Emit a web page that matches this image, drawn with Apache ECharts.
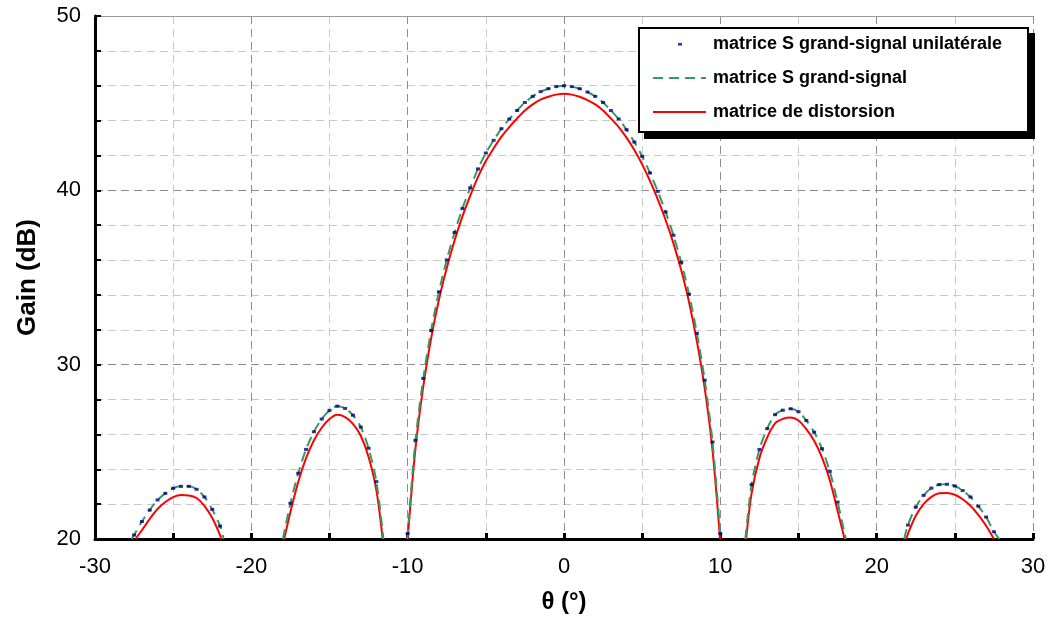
<!DOCTYPE html>
<html>
<head>
<meta charset="utf-8">
<title>Gain vs theta</title>
<script src="https://cdn.jsdelivr.net/npm/echarts@6/dist/echarts.min.js"></script>
<style>
  html, body { margin: 0; padding: 0; background: #fff; }
  #chart { width: 1051px; height: 628px; }
</style>
</head>
<body>
<div id="chart"></div>
<script>
// angle (deg) / gain (dB), null = line break (below 20 dB)
const dotTheta = [
  -27.5, -27, -26.5, -26, -25.5, -25, -24.5, -24, -23.5, -23, -22.5, -22,
  -17.5, -17, -16.5, -16, -15.5, -15, -14.5, -14, -13.5, -13, -12.5, -12,
  -10, -9.5, -9, -8.5, -8, -7.5, -7, -6.5, -6, -5.5, -5, -4.5, -4, -3.5, -3, -2.5, -2, -1.5, -1, -0.5,
  0, 0.5, 1, 1.5, 2, 2.5, 3, 3.5, 4, 4.5, 5, 5.5, 6, 6.5, 7, 7.5, 8, 8.5, 9, 9.5, 10,
  12, 12.5, 13, 13.5, 14, 14.5, 15, 15.5, 16, 16.5, 17, 17.5,
  22, 22.5, 23, 23.5, 24, 24.5, 25, 25.5, 26, 26.5, 27, 27.5
]
const dotGain = [
  20.23, 21.0, 21.66, 22.24, 22.62, 22.91, 23.02, 23.02, 22.85, 22.41, 21.7, 20.74,
  22.05, 23.77, 25.14, 26.15, 26.88, 27.38, 27.62, 27.49, 27.1, 26.42, 25.2, 23.29,
  20.31, 25.66, 29.21, 31.96, 34.18, 36.01, 37.58, 38.95, 40.14, 41.23, 42.14, 42.87, 43.54, 44.09, 44.58, 45.04, 45.39, 45.66, 45.83, 45.95,
  46.0, 45.95, 45.83, 45.64, 45.39, 45.04, 44.58, 44.09, 43.48, 42.77, 41.95, 41.0, 39.94, 38.76, 37.42, 35.87, 34.04, 31.8, 29.11, 25.56, 20.31,
  23.12, 25.14, 26.33, 27.13, 27.39, 27.47, 27.3, 26.8, 26.13, 25.18, 23.88, 22.12,
  20.8, 21.83, 22.5, 22.92, 23.12, 23.14, 23.04, 22.78, 22.41, 21.88, 21.26, 20.42
]

const greenTheta = [
  -27.65, -27.5, -27, -26.5, -26, -25.5, -25, -24.5, -24, -23.5, -23, -22.5, -22, -21.77, -20,
  -17.98, -17.5, -17, -16.5, -16, -15.5, -15, -14.5, -14, -13.5, -13, -12.5, -12, -11.55, -10.8,
  -10.03, -10, -9.5, -9, -8.5, -8, -7.5, -7, -6.5, -6, -5.5, -5, -4.5, -4, -3.5, -3, -2.5, -2, -1.5, -1, -0.5,
  0, 0.5, 1, 1.5, 2, 2.5, 3, 3.5, 4, 4.5, 5, 5.5, 6, 6.5, 7, 7.5, 8, 8.5, 9, 9.5, 10, 10.03, 10.8,
  11.6, 12, 12.5, 13, 13.5, 14, 14.5, 15, 15.5, 16, 16.5, 17, 17.5, 18.03, 20,
  21.76, 22, 22.5, 23, 23.5, 24, 24.5, 25, 25.5, 26, 26.5, 27, 27.5, 27.85
]
const greenGain = [
  20, 20.23, 21.0, 21.66, 22.24, 22.62, 22.91, 23.02, 23.02, 22.85, 22.41, 21.7, 20.74, 20, null,
  20, 22.05, 23.77, 25.14, 26.15, 26.88, 27.38, 27.62, 27.49, 27.1, 26.42, 25.2, 23.29, 20, null,
  20, 20.31, 25.66, 29.21, 31.96, 34.18, 36.01, 37.58, 38.95, 40.14, 41.23, 42.14, 42.87, 43.54, 44.09, 44.58, 45.04, 45.39, 45.66, 45.83, 45.95,
  46.0, 45.95, 45.83, 45.64, 45.39, 45.04, 44.58, 44.09, 43.48, 42.77, 41.95, 41.0, 39.94, 38.76, 37.42, 35.87, 34.04, 31.8, 29.11, 25.56, 20.31, 20, null,
  20, 23.12, 25.14, 26.33, 27.13, 27.39, 27.47, 27.3, 26.8, 26.13, 25.18, 23.88, 22.12, 20, null,
  20, 20.8, 21.83, 22.5, 22.92, 23.12, 23.14, 23.04, 22.78, 22.41, 21.88, 21.26, 20.42, 20
]

const redTheta = [
  -27.41, -27, -26.5, -26, -25.5, -25, -24.5, -24, -23.5, -23, -22.5, -22, -21.94, -20,
  -17.9, -17.5, -17, -16.5, -16, -15.5, -15, -14.5, -14, -13.5, -13, -12.5, -12, -11.6, -10.8,
  -10, -9.5, -9, -8.5, -8, -7.5, -7, -6.5, -6, -5.5, -5, -4.5, -4, -3.5, -3, -2.5, -2, -1.5, -1, -0.5,
  0, 0.5, 1, 1.5, 2, 2.5, 3, 3.5, 4, 4.5, 5, 5.5, 6, 6.5, 7, 7.5, 8, 8.5, 9, 9.5, 9.98, 10.8,
  11.65, 12, 12.5, 13, 13.5, 14, 14.5, 15, 15.5, 16, 16.5, 17, 17.5, 17.95, 20,
  21.9, 22, 22.5, 23, 23.5, 24, 24.5, 25, 25.5, 26, 26.5, 27, 27.5
]
const redGain = [
  20, 20.5, 21.15, 21.72, 22.12, 22.4, 22.52, 22.5, 22.35, 21.9, 21.2, 20.22, 20, null,
  20, 21.55, 23.27, 24.64, 25.65, 26.38, 26.88, 27.12, 26.99, 26.6, 25.92, 24.7, 22.79, 20, null,
  20, 25.2, 28.75, 31.5, 33.72, 35.55, 37.12, 38.49, 39.68, 40.77, 41.68, 42.41, 43.08, 43.63, 44.12, 44.58, 44.93, 45.2, 45.37, 45.49,
  45.54, 45.49, 45.37, 45.18, 44.93, 44.58, 44.12, 43.63, 43.02, 42.31, 41.49, 40.54, 39.48, 38.3, 36.96, 35.41, 33.58, 31.34, 28.65, 25.1, 20, null,
  20, 22.62, 24.64, 25.83, 26.63, 26.89, 26.97, 26.8, 26.3, 25.63, 24.68, 23.38, 21.62, 20, null,
  20, 20.3, 21.33, 22.0, 22.42, 22.62, 22.64, 22.54, 22.28, 21.91, 21.38, 20.76, 20
]

const seriesNames = [
  'matrice S grand-signal unilatérale',
  'matrice S grand-signal',
  'matrice de distorsion'
]

const zip = (xs, ys) => xs.map((x, i) => [x, ys[i]])

const chart = echarts.init(document.getElementById('chart'))
const font = 'Arial, "Liberation Sans", sans-serif'

chart.setOption({
  animation: false,
  backgroundColor: '#fff',
  grid: { left: 95, right: 18, top: 16, bottom: 89 },
  // legend frame with its hard black shadow
  graphic: [
    { type: 'rect', z: 10, shape: { x: 644, y: 33, width: 391, height: 106 }, style: { fill: '#000' } },
    { type: 'rect', z: 11, shape: { x: 639, y: 28, width: 389, height: 104 }, style: { fill: '#fff', stroke: '#000', lineWidth: 2 } }
  ],
  legend: {
    orient: 'vertical',
    left: 652,
    top: 35,
    z: 12,
    padding: 0,
    itemGap: 16,
    itemWidth: 53,
    itemHeight: 14,
    textStyle: { fontFamily: font, fontWeight: 'bold', fontSize: 18, lineHeight: 18, color: '#000', padding: [0, 0, 0, 2] },
    data: [
      { name: seriesNames[0], icon: 'path://M0,0 M53,14 M25,6 L29,6 L29,8.5 L25,8.5 Z' },
      { name: seriesNames[1], itemStyle: { opacity: 0 } },
      { name: seriesNames[2], itemStyle: { opacity: 0 } }
    ]
  },
  xAxis: [
    {
      type: 'value',
      min: -30,
      max: 30,
      interval: 10,
      name: 'θ (°)',
      nameLocation: 'middle',
      nameGap: 51,
      nameTextStyle: { fontFamily: font, fontWeight: 'bold', fontSize: 24, color: '#000' },
      axisLine: { onZero: false, lineStyle: { color: '#000', width: 3 } },
      axisTick: { inside: true, length: 6, lineStyle: { color: '#000', width: 3 } },
      minorTick: { show: true, splitNumber: 2, length: 6, lineStyle: { color: '#000', width: 3 } },
      axisLabel: { fontFamily: font, fontSize: 22, color: '#000', margin: 17 },
      splitLine: { lineStyle: { color: '#8c8c8c', type: [8, 5], width: 1 } },
      minorSplitLine: { show: true, lineStyle: { color: '#c8c8c8', type: [8, 5], width: 1 } }
    },
    {
      type: 'value',
      position: 'top',
      min: -30,
      max: 30,
      axisLine: { onZero: false, lineStyle: { color: '#9a9a9a', width: 1 } },
      axisTick: { show: false },
      axisLabel: { show: false },
      splitLine: { show: false }
    }
  ],
  yAxis: {
    type: 'value',
    min: 20,
    max: 50,
    interval: 10,
    name: 'Gain (dB)',
    nameLocation: 'middle',
    nameGap: 54,
    nameTextStyle: { fontFamily: font, fontWeight: 'bold', fontSize: 26, color: '#000' },
    axisLine: { show: true, onZero: false, lineStyle: { color: '#000', width: 3 } },
    axisTick: { inside: true, length: 6, lineStyle: { color: '#000', width: 2 } },
    minorTick: { show: true, splitNumber: 5, length: 6, lineStyle: { color: '#000', width: 2 } },
    axisLabel: { fontFamily: font, fontSize: 22, color: '#000', margin: 14 },
    splitLine: { lineStyle: { color: '#8c8c8c', type: [8, 5], width: 1 } },
    minorSplitLine: { show: true, lineStyle: { color: '#c8c8c8', type: [8, 5], width: 1 } }
  },
  series: [
    {
      name: seriesNames[0],
      type: 'scatter',
      symbol: 'rect',
      symbolSize: [4, 3],
      itemStyle: { color: '#000080' },
      z: 4,
      data: zip(dotTheta, dotGain)
    },
    {
      name: seriesNames[1],
      type: 'line',
      smooth: 0.3,
      symbol: 'none',
      connectNulls: false,
      lineStyle: { color: '#339966', width: 2, type: [10, 6] },
      itemStyle: { color: '#339966' },
      z: 3,
      data: zip(greenTheta, greenGain)
    },
    {
      name: seriesNames[2],
      type: 'line',
      smooth: 0.3,
      symbol: 'none',
      connectNulls: false,
      lineStyle: { color: '#ff0000', width: 2 },
      itemStyle: { color: '#ff0000' },
      z: 2,
      data: zip(redTheta, redGain)
    }
  ]
})
</script>
</body>
</html>
